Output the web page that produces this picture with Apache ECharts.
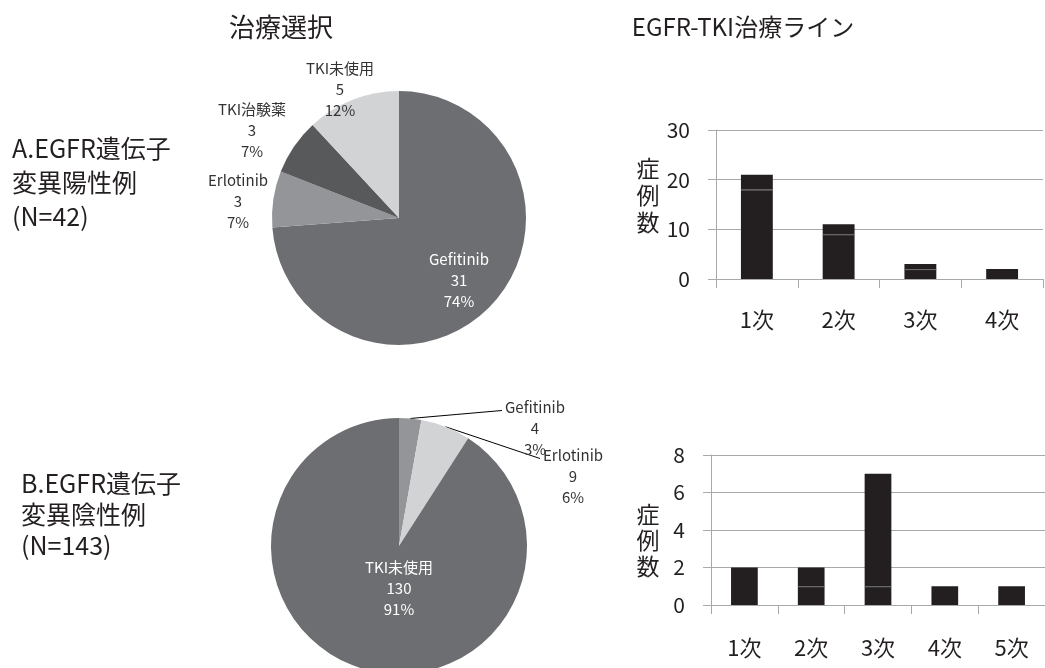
<!DOCTYPE html>
<html>
<head>
<meta charset="utf-8">
<script src="https://cdn.jsdelivr.net/npm/echarts@6/dist/echarts.min.js"></script>
<style>
  html, body { margin: 0; padding: 0; background: #fff; }
  #chart { width: 1045px; height: 668px; }
</style>
</head>
<body>
<div id="chart"></div>
<script>
// Treatment choice, EGFR mutation positive (N=42)
const pieANames = ['Gefitinib', 'Erlotinib', 'TKI治験薬', 'TKI未使用'];
const pieAValues = [31, 3, 3, 5];
const pieAColors = ['#6d6e71', '#939598', '#58595b', '#d1d3d4'];

// Treatment choice, EGFR mutation negative (N=143)
const pieBNames = ['Gefitinib', 'Erlotinib', 'TKI未使用'];
const pieBValues = [4, 9, 130];
const pieBColors = ['#939598', '#d1d3d4', '#6d6e71'];

// EGFR-TKI treatment line, positive cases (two stacked parts per bar)
const lineCatsA = ['1次', '2次', '3次', '4次'];
const lineALower = [18, 9, 2, 2];
const lineAUpper = [3, 2, 1, 0];

// EGFR-TKI treatment line, negative cases
const lineCatsB = ['1次', '2次', '3次', '4次', '5次'];
const lineBLower = [2, 1, 1, 1, 1];
const lineBUpper = [0, 1, 6, 0, 0];

const yTicksA = { max: 30, interval: 10 };
const yTicksB = { max: 8, interval: 2 };

const FONT = '"Noto Sans CJK JP", "Noto Sans", sans-serif';
const INK = '#231f20';
const GRID_GRAY = '#a7a9ac';
const BAR = '#231f20';

// label anchor points for pie labels (center of the text block)
const pieALabelPos = {
  'Gefitinib': [459, 280],
  'Erlotinib': [238, 201],
  'TKI治験薬': [252, 130],
  'TKI未使用': [340, 89]
};
const pieBLabelPos = {
  'Gefitinib': [535, 428],
  'Erlotinib': [573, 476],
  'TKI未使用': [399, 588]
};

function pieData(names, values, colors, insideName) {
  return names.map((n, i) => ({
    name: n,
    value: values[i],
    itemStyle: { color: colors[i] },
    label: { color: n === insideName ? '#ffffff' : '#333333' }
  }));
}

function pieBData() {
  const d = pieData(pieBNames, pieBValues, pieBColors, 'TKI未使用');
  d[2].labelLine = { show: false };
  return d;
}

function zeroToGap(arr) { return arr.map(v => (v === 0 ? '-' : v)); }

function separatorData(lower, upper) {
  const out = [];
  lower.forEach((v, i) => { if (upper[i] > 0) out.push([i, v]); });
  return out;
}

// thin line marking the boundary between the two stacked parts of a bar
function separatorSeries(xi, lower, upper, ratio) {
  return {
    type: 'custom',
    xAxisIndex: xi, yAxisIndex: xi,
    silent: true,
    z: 5,
    data: separatorData(lower, upper),
    renderItem: function (params, api) {
      const p = api.coord([api.value(0), api.value(1)]);
      const w = api.size([1, 0])[0] * ratio;
      return {
        type: 'line',
        shape: { x1: p[0] - w / 2, y1: p[1] + 0.5, x2: p[0] + w / 2, y2: p[1] + 0.5 },
        style: { stroke: '#707070', lineWidth: 1 }
      };
    }
  };
}

function xAxisCfg(cats, gi, margin) {
  return {
    type: 'category', gridIndex: gi, data: cats,
    axisLine: { lineStyle: { color: GRID_GRAY, width: 1 } },
    axisTick: { show: true, length: 9, lineStyle: { color: GRID_GRAY } },
    axisLabel: { color: INK, fontSize: 22, fontFamily: FONT, margin: margin }
  };
}

function yAxisCfg(t, gi) {
  return {
    type: 'value', gridIndex: gi, min: 0, max: t.max, interval: t.interval,
    axisLine: { show: true, lineStyle: { color: GRID_GRAY, width: 1 } },
    axisTick: { show: true, length: 8, lineStyle: { color: GRID_GRAY } },
    splitLine: { show: true, lineStyle: { color: GRID_GRAY, width: 1 } },
    axisLabel: { color: INK, fontSize: 21, fontFamily: FONT, margin: 26 }
  };
}

const chart = echarts.init(document.getElementById('chart'), null, { renderer: 'canvas' });

const labelBase = {
  formatter: '{b}\n{c}\n{d}%',
  fontSize: 15,
  lineHeight: 21,
  fontFamily: FONT
};

const option = {
  backgroundColor: '#ffffff',
  animation: false,
  textStyle: { fontFamily: FONT },
  graphic: [
    { type: 'text', x: 281, y: 27, style: { text: '治療選択', font: '26px ' + FONT, fill: INK, textAlign: 'center', textVerticalAlign: 'middle' } },
    { type: 'text', x: 743, y: 27, style: { text: 'EGFR-TKI治療ライン', font: '24px ' + FONT, fill: INK, textAlign: 'center', textVerticalAlign: 'middle' } },
    { type: 'text', x: 12, y: 182, style: { text: 'A.EGFR遺伝子\n変異陽性例\n(N=42)', font: '25px ' + FONT, lineHeight: 34, fill: INK, textAlign: 'left', textVerticalAlign: 'middle' } },
    { type: 'text', x: 21, y: 514, style: { text: 'B.EGFR遺伝子\n変異陰性例\n(N=143)', font: '25px ' + FONT, lineHeight: 31, fill: INK, textAlign: 'left', textVerticalAlign: 'middle' } },
    { type: 'text', x: 648, y: 195, style: { text: '症\n例\n数', font: '23px ' + FONT, lineHeight: 27, fill: INK, textAlign: 'center', textVerticalAlign: 'middle' } },
    { type: 'text', x: 648, y: 540, style: { text: '症\n例\n数', font: '23px ' + FONT, lineHeight: 26, fill: INK, textAlign: 'center', textVerticalAlign: 'middle' } }
  ],
  grid: [
    { left: 716, top: 130, width: 327, height: 149 },
    { left: 711, top: 455, width: 340, height: 150 }
  ],
  xAxis: [xAxisCfg(lineCatsA, 0, 30), xAxisCfg(lineCatsB, 1, 32)],
  yAxis: [yAxisCfg(yTicksA, 0), yAxisCfg(yTicksB, 1)],
  series: [
    {
      type: 'pie',
      center: [399, 218],
      radius: 127,
      startAngle: 90,
      clockwise: true,
      avoidLabelOverlap: false,
      percentPrecision: 0,
      data: pieData(pieANames, pieAValues, pieAColors, 'Gefitinib'),
      label: Object.assign({ show: true, position: 'outside' }, labelBase),
      labelLine: { show: false },
      labelLayout: function (p) {
        const pos = pieALabelPos[pieANames[p.dataIndex]];
        return { x: pos[0], y: pos[1], align: 'center', verticalAlign: 'middle' };
      }
    },
    {
      type: 'pie',
      center: [399, 546],
      radius: 128,
      startAngle: 90,
      clockwise: true,
      avoidLabelOverlap: false,
      percentPrecision: 0,
      data: pieBData(),
      label: Object.assign({ show: true, position: 'outside' }, labelBase),
      labelLine: { show: true, length: 10, length2: 10, lineStyle: { color: '#000000', width: 1 } },
      labelLayout: function (p) {
        const pos = pieBLabelPos[pieBNames[p.dataIndex]];
        const out = { x: pos[0], y: pos[1], align: 'center', verticalAlign: 'middle' };
        if (p.labelLinePoints && p.labelLinePoints.length) {
          // leader runs from the slice edge to the left end of the first text line
          const start = p.labelLinePoints[0];
          const w = p.labelRect.width;
          const h = p.labelRect.height;
          const end = [pos[0] - w / 2 - 3, pos[1] - h / 2 + 14];
          const mid = [(start[0] + end[0]) / 2, (start[1] + end[1]) / 2];
          out.labelLinePoints = [start, mid, end];
        }
        return out;
      }
    },
    {
      type: 'bar', xAxisIndex: 0, yAxisIndex: 0, stack: 'a',
      barWidth: '39%', itemStyle: { color: BAR }, data: zeroToGap(lineALower)
    },
    {
      type: 'bar', xAxisIndex: 0, yAxisIndex: 0, stack: 'a',
      barWidth: '39%', itemStyle: { color: BAR }, data: zeroToGap(lineAUpper)
    },
    separatorSeries(0, lineALower, lineAUpper, 0.39),
    {
      type: 'bar', xAxisIndex: 1, yAxisIndex: 1, stack: 'b',
      barWidth: '40%', itemStyle: { color: BAR }, data: zeroToGap(lineBLower)
    },
    {
      type: 'bar', xAxisIndex: 1, yAxisIndex: 1, stack: 'b',
      barWidth: '40%', itemStyle: { color: BAR }, data: zeroToGap(lineBUpper)
    },
    separatorSeries(1, lineBLower, lineBUpper, 0.40)
  ]
};

chart.setOption(option);
</script>
</body>
</html>
